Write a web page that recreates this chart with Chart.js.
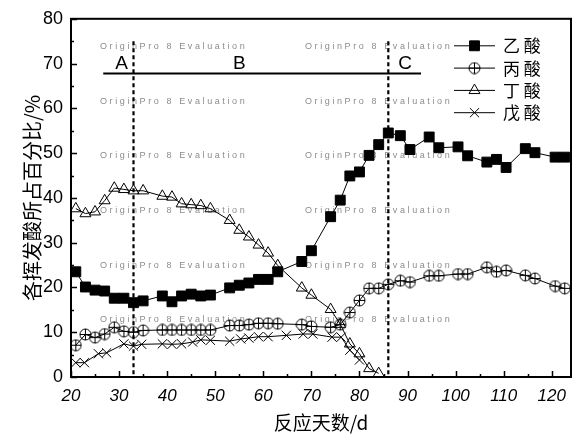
<!DOCTYPE html>
<html>
<head>
<meta charset="utf-8">
<script src="https://cdn.jsdelivr.net/npm/chart.js@4/dist/chart.umd.min.js"></script>
<style>
  html, body { margin: 0; padding: 0; background: #fff; }
  #wrap { width: 579px; height: 437px; }
</style>
</head>
<body>
<div id="wrap"><canvas id="c" width="579" height="437"></canvas></div>
<script>
// ---- data: share (%) of each volatile fatty acid vs. reaction day ----
const daysMain = [21, 23, 25, 27, 29, 31, 33, 35, 39, 41, 43, 45, 47, 49, 53, 55, 57, 59, 61, 63, 68, 70,
                  74, 76, 78, 80, 82, 84, 86, 88.5, 90.5, 94.5, 96.5, 100.5, 102.5, 106.5, 108.5, 110.5, 114.5, 116.5, 120.7, 122.7];
const acetic = [23.5, 20.1, 19.4, 19.2, 17.6, 17.6, 16.6, 17.0, 18.1, 16.8, 18.1, 18.5, 18.1, 18.3, 19.9, 20.5, 21.0, 21.8, 21.8, 23.5, 25.8, 28.2,
                35.8, 39.5, 44.9, 45.8, 49.5, 51.9, 54.5, 53.9, 50.8, 53.6, 51.2, 51.4, 49.4, 48.0, 48.6, 46.8, 51.0, 50.1, 49.1, 49.1];
const propionic = [7.1, 9.5, 8.8, 9.6, 11.1, 10.2, 10.0, 10.4, 10.5, 10.5, 10.5, 10.5, 10.5, 10.5, 11.5, 11.5, 11.7, 12.0, 12.0, 11.9, 11.7, 11.3,
                   11.1, 11.7, 14.4, 17.1, 19.8, 19.8, 20.7, 21.5, 21.2, 22.6, 22.6, 23.0, 23.0, 24.5, 23.5, 23.8, 22.7, 22.0, 20.3, 19.8];
const daysButyric = [21, 23, 25, 27, 29, 31, 33, 35, 39, 41, 43, 45, 47, 49, 53, 55, 57, 59, 61, 63, 68, 70, 74, 76, 78, 80, 82, 84];
const butyric = [37.6, 36.5, 36.9, 39.4, 42.2, 41.9, 41.6, 41.6, 40.4, 40.2, 38.7, 38.5, 38.3, 37.6, 35.0, 32.8, 31.3, 29.5, 27.7, 24.9, 19.9, 18.3,
                 15.1, 11.8, 7.4, 5.2, 1.9, 0.8];
const daysValeric = [21, 22.8, 25.7, 27.4, 31, 33, 34.7, 39, 41, 43, 45.3, 47, 49, 53, 55.3, 57, 59, 61, 64.8, 68.3, 70.3, 74.3, 76.2, 78, 80];
const valeric = [3.2, 3.2, 5.2, 5.4, 7.4, 6.9, 7.3, 7.4, 7.3, 7.4, 7.8, 8.3, 8.2, 8.0, 8.5, 8.7, 9.0, 9.0, 9.3, 9.6, 9.6, 8.9, 8.9, 6.0, 3.8];

const seriesNames = ['乙 酸', '丙 酸', '丁 酸', '戊 酸'];
const xTicks = [20, 30, 40, 50, 60, 70, 80, 90, 100, 110, 120];
const yTicks = [0, 10, 20, 30, 40, 50, 60, 70, 80];
const xTitle = '反应天数/d';
const yTitle = '各挥发酸所占百分比/%';

// stage boundaries and labels
const stageBounds = [33, 86];
const stageBarY = 67.8;
const stageBarRange = [26.7, 92.8];
const stageLabels = [{t: 'A', x: 30.5, y: 70}, {t: 'B', x: 55, y: 70}, {t: 'C', x: 89.5, y: 70}];
const stageTop = 75;

const pairs = (xs, ys) => xs.map((x, i) => ({x, y: ys[i]}));

// open circle with a cross inside
function circlePlus() {
  const c = document.createElement('canvas');
  c.width = 13; c.height = 13;
  const g = c.getContext('2d');
  g.strokeStyle = '#000'; g.lineWidth = 1;
  g.beginPath(); g.arc(6.5, 6.5, 5.5, 0, Math.PI * 2); g.stroke();
  g.beginPath(); g.moveTo(6.5, 1); g.lineTo(6.5, 12); g.moveTo(1, 6.5); g.lineTo(12, 6.5); g.stroke();
  return c;
}
const circleMark = circlePlus();

const NUM_FONT = 'Liberation Sans';
const CJK_FONT = 'Noto Sans CJK SC';

const baseDs = {showLine: true, borderColor: '#000', borderWidth: 1, pointBorderColor: '#000', pointBorderWidth: 1, tension: 0};
const datasets = [
  Object.assign({}, baseDs, {label: seriesNames[0], data: pairs(daysMain, acetic), pointStyle: 'rect', pointRadius: 7, pointBackgroundColor: '#000'}),
  Object.assign({}, baseDs, {label: seriesNames[1], data: pairs(daysMain, propionic), pointStyle: circleMark, pointRadius: 6, pointBackgroundColor: 'rgba(0,0,0,0)'}),
  Object.assign({}, baseDs, {label: seriesNames[2], data: pairs(daysButyric, butyric), pointStyle: 'triangle', pointRadius: 6.3, pointBackgroundColor: 'rgba(0,0,0,0)'}),
  Object.assign({}, baseDs, {label: seriesNames[3], data: pairs(daysValeric, valeric), pointStyle: 'crossRot', pointRadius: 6.5, pointBackgroundColor: 'rgba(0,0,0,0)'})
];

// faint evaluation stamp, dashed stage boundaries, stage bar and labels
const backdrop = {
  id: 'backdrop',
  beforeDatasetsDraw(chart) {
    const {ctx, chartArea: a, scales: {x, y}} = chart;
    ctx.save();
    ctx.fillStyle = '#8c8c8c';
    ctx.font = '9px "' + NUM_FONT + '"';
    ctx.letterSpacing = '2.6px';
    ctx.textBaseline = 'middle';
    for (let r = 0; r < 6; r++) {
      for (const cx of [29, 234]) {
        ctx.fillText('OriginPro 8 Evaluation', a.left + cx, a.top + 28 + r * 54.6);
      }
    }
    ctx.letterSpacing = '0px';

    ctx.strokeStyle = '#000';
    ctx.lineWidth = 2.2;
    ctx.setLineDash([4, 3]);
    for (const b of stageBounds) {
      const px = x.getPixelForValue(b);
      ctx.beginPath(); ctx.moveTo(px, y.getPixelForValue(stageTop)); ctx.lineTo(px, a.bottom); ctx.stroke();
    }
    ctx.setLineDash([]);
    ctx.lineWidth = 2;
    const by = y.getPixelForValue(stageBarY);
    ctx.beginPath(); ctx.moveTo(x.getPixelForValue(stageBarRange[0]), by); ctx.lineTo(x.getPixelForValue(stageBarRange[1]), by); ctx.stroke();

    ctx.fillStyle = '#000';
    ctx.font = '19px "' + NUM_FONT + '"';
    ctx.textAlign = 'center';
    ctx.textBaseline = 'middle';
    for (const s of stageLabels) ctx.fillText(s.t, x.getPixelForValue(s.x), y.getPixelForValue(s.y));
    ctx.restore();
  }
};

// plot frame, inward tick marks, and in-plot legend
const frame = {
  id: 'frame',
  afterDraw(chart) {
    const {ctx, chartArea: a, scales: {x, y}} = chart;
    ctx.save();
    ctx.strokeStyle = '#000';
    ctx.lineWidth = 1.5;
    ctx.beginPath();
    for (let v = xTicks[0]; v <= xTicks[xTicks.length - 1]; v += 5) {
      const px = Math.round(x.getPixelForValue(v)) + 0.5;
      const len = (v % 10 === 0) ? 6 : 3;
      ctx.moveTo(px, a.bottom); ctx.lineTo(px, a.bottom - len);
    }
    for (let v = yTicks[0]; v <= yTicks[yTicks.length - 1]; v += 5) {
      const py = Math.round(y.getPixelForValue(v)) + 0.5;
      const len = (v % 10 === 0) ? 6 : 3;
      ctx.moveTo(a.left, py); ctx.lineTo(a.left + len, py);
    }
    ctx.stroke();
    ctx.lineWidth = 2;
    ctx.strokeRect(a.left, a.top, a.right - a.left, a.bottom - a.top);

    // legend
    const lx = a.left + 383, ly = a.top + 27, step = 22.3;
    chart.data.datasets.forEach((ds, i) => {
      const yy = ly + i * step;
      ctx.strokeStyle = '#000'; ctx.lineWidth = 1;
      ctx.beginPath(); ctx.moveTo(lx, yy); ctx.lineTo(lx + 41, yy); ctx.stroke();
      ctx.fillStyle = ds.pointBackgroundColor;
      Chart.helpers.drawPoint(ctx, {pointStyle: ds.pointStyle, radius: ds.pointRadius, rotation: 0, borderWidth: 1}, lx + 20.5, yy);
      ctx.fillStyle = '#000';
      ctx.font = '17px "' + CJK_FONT + '"';
      ctx.textAlign = 'left'; ctx.textBaseline = 'middle';
      ctx.fillText(ds.label, lx + 49, yy);
    });
    ctx.restore();
  }
};

new Chart(document.getElementById('c'), {
  type: 'scatter',
  data: {datasets},
  options: {
    responsive: false,
    animation: false,
    layout: {padding: {top: 15, right: 6, bottom: 0, left: 0}},
    plugins: {legend: {display: false}, tooltip: {enabled: false}},
    scales: {
      x: {
        type: 'linear', min: 20, max: 124,
        afterBuildTicks: s => { s.ticks = xTicks.map(v => ({value: v})); },
        afterFit: s => { s.height = 60; },
        ticks: {color: '#000', padding: 9, maxRotation: 0, autoSkip: false,
                font: {family: NUM_FONT, size: 17, style: 'italic'}},
        grid: {display: false, drawTicks: false},
        border: {display: false},
        title: {display: true, text: xTitle, color: '#000', font: {family: CJK_FONT, size: 19}, padding: {top: 0, bottom: 3}}
      },
      y: {
        type: 'linear', min: 0, max: 80,
        afterBuildTicks: s => { s.ticks = yTicks.map(v => ({value: v})); },
        afterFit: s => { s.width = 71; },
        ticks: {color: '#000', padding: 8, font: {family: NUM_FONT, size: 18}},
        grid: {display: false, drawTicks: false},
        border: {display: false},
        title: {display: true, text: yTitle, color: '#000', font: {family: CJK_FONT, size: 20}, padding: {top: 20, bottom: 0}}
      }
    }
  },
  plugins: [backdrop, frame]
});
</script>
</body>
</html>
